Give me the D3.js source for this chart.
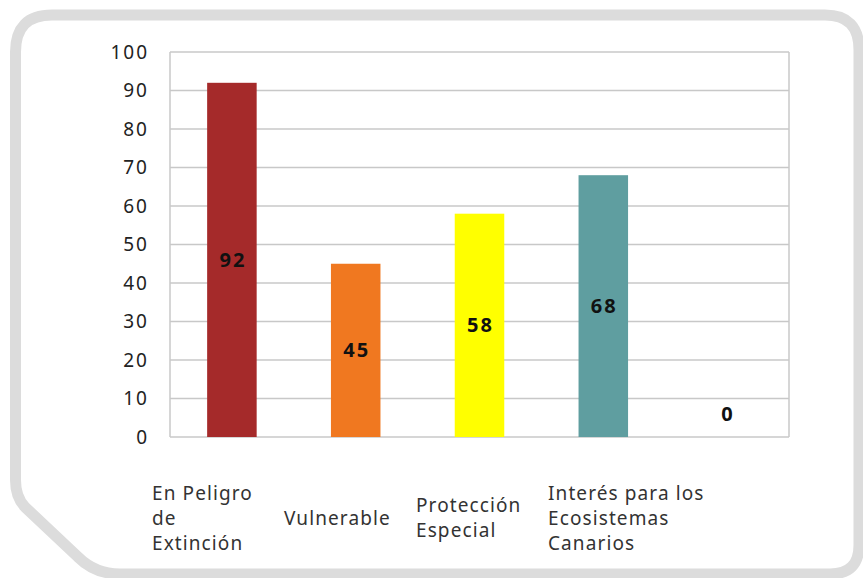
<!DOCTYPE html>
<html>
<head>
<meta charset="utf-8">
<script src="https://cdn.jsdelivr.net/npm/d3@7"></script>
<style>
  html, body { margin: 0; padding: 0; background: #ffffff; }
  svg { display: block; }
  text { font-family: "Noto Sans", "Open Sans", sans-serif; }
</style>
</head>
<body>
<svg id="chart" width="863" height="578"></svg>
<script>
const categories = ["En Peligro de Extinción", "Vulnerable", "Protección Especial", "Interés para los Ecosistemas Canarios", ""];
const values = [92, 45, 58, 68, 0];
const colors = ["#A52A2A", "#F07820", "#FFFF00", "#5F9EA0", "#999999"];
const labelLines = [["En Peligro", "de", "Extinción"], ["Vulnerable"], ["Protección", "Especial"], ["Interés para los", "Ecosistemas", "Canarios"]];
const yTicks = [0, 10, 20, 30, 40, 50, 60, 70, 80, 90, 100];

const svg = d3.select("#chart");

// Frame with chamfered bottom-left corner
const frame = d3.path();
frame.moveTo(15.5, 52);
frame.quadraticCurveTo(15.5, 15, 52, 15);
frame.lineTo(825, 15);
frame.quadraticCurveTo(859, 15, 859, 50);
frame.lineTo(859, 545);
frame.quadraticCurveTo(859, 574, 830, 574);
frame.lineTo(120, 574);
frame.quadraticCurveTo(95, 574, 78, 557);
frame.lineTo(25, 507);
frame.quadraticCurveTo(15.5, 497, 15.5, 480);
frame.closePath();
svg.append("path").attr("d", frame.toString())
  .attr("fill", "#ffffff").attr("stroke", "#dcdcdc").attr("stroke-width", 11);

const x0 = 170, x1 = 789, yTop = 52, yBot = 437;
const x = d3.scaleBand().domain(categories).range([x0, x1]).paddingInner(0.6).paddingOuter(0.3);
const y = d3.scaleLinear().domain([0, 100]).range([yBot, yTop]);

// gridlines
svg.append("g").selectAll("line").data(yTicks).join("line")
  .attr("x1", x0).attr("x2", x1)
  .attr("y1", d => y(d)).attr("y2", d => y(d))
  .attr("stroke", "#c8c8c8").attr("stroke-width", 1.5);

// borders
svg.append("line").attr("x1", x0).attr("x2", x0).attr("y1", yTop).attr("y2", yBot)
  .attr("stroke", "#c8c8c8").attr("stroke-width", 1.5);
svg.append("line").attr("x1", x1).attr("x2", x1).attr("y1", yTop).attr("y2", yBot)
  .attr("stroke", "#c8c8c8").attr("stroke-width", 1.5);

// y axis labels
const yAxis = d3.axisLeft(y).tickValues(yTicks).tickSize(0).tickPadding(21);
const gy = svg.append("g").attr("transform", `translate(${x0},0)`).call(yAxis);
gy.select(".domain").remove();
gy.selectAll("text").attr("font-size", 19).attr("fill", "#222")
  .attr("font-family", "Noto Sans").attr("letter-spacing", 2);

// bars
svg.append("g").selectAll("rect").data(values).join("rect")
  .attr("x", (d, i) => x(categories[i]))
  .attr("width", x.bandwidth())
  .attr("y", d => y(d))
  .attr("height", d => y(0) - y(d))
  .attr("fill", (d, i) => colors[i]);

// value labels
svg.append("g").selectAll("text").data(values).join("text")
  .attr("x", (d, i) => x(categories[i]) + x.bandwidth() / 2 + 1)
  .attr("y", d => d === 0 ? y(0) - 23 : (y(d) + y(0)) / 2)
  .attr("dy", "0.35em")
  .attr("text-anchor", "middle")
  .attr("font-size", 20).attr("font-weight", "bold").attr("fill", "#111")
  .attr("letter-spacing", 2)
  .text(d => d);

// category labels (left aligned blocks, vertically centred)
const lx = d3.scaleBand().domain(d3.range(labelLines.length)).range([152, 152 + 132 * labelLines.length]);
const lineH = 25, midY = 518;
const lg = svg.append("g");
labelLines.forEach((lines, i) => {
  const t = lg.append("text")
    .attr("x", lx(i))
    .attr("font-size", 19).attr("fill", "#333")
    .attr("letter-spacing", 1.1);
  lines.forEach((ln, j) => {
    t.append("tspan").attr("x", lx(i))
      .attr("y", midY + (j - (lines.length - 1) / 2) * lineH)
      .attr("dy", "0.35em")
      .text(ln);
  });
});
</script>
</body>
</html>
